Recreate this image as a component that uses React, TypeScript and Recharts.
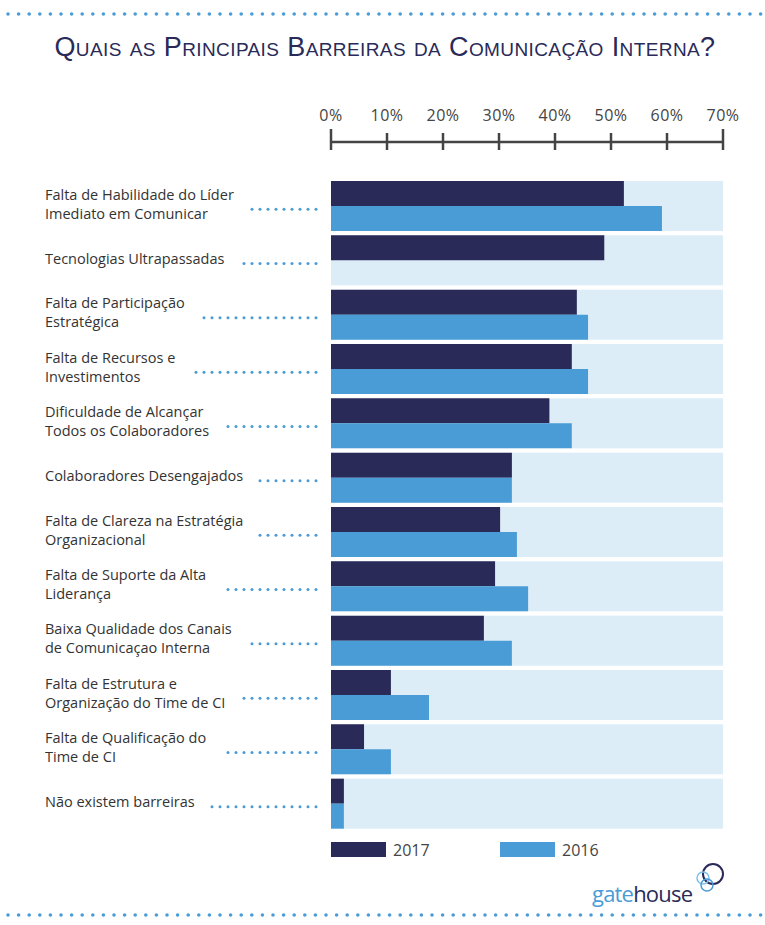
import React from 'react';
import { BarChart, Bar, XAxis, YAxis } from 'recharts';

const categories = [
  'Falta de Habilidade do Líder\nImediato em Comunicar',
  'Tecnologias Ultrapassadas',
  'Falta de Participação\nEstratégica',
  'Falta de Recursos e\nInvestimentos',
  'Dificuldade de Alcançar\nTodos os Colaboradores',
  'Colaboradores Desengajados',
  'Falta de Clareza na Estratégia\nOrganizacional',
  'Falta de Suporte da Alta\nLiderança',
  'Baixa Qualidade dos Canais\nde Comunicaçao Interna',
  'Falta de Estrutura e\nOrganização do Time de CI',
  'Falta de Qualificação do\nTime de CI',
  'Não existem barreiras',
];
const values2017 = [52.3, 48.8, 43.9, 43, 39, 32.3, 30.2, 29.3, 27.3, 10.7, 5.9, 2.3];
const values2016 = [59.1, 0, 45.9, 45.9, 43, 32.3, 33.2, 35.2, 32.3, 17.5, 10.7, 2.3];
const xTicks = [0, 10, 20, 30, 40, 50, 60, 70];

const DARK = '#292a58';
const BLUE = '#4a9cd6';
const BAND = '#dcedf8';
const LABEL_FONT = "14.5px 'Open Sans', sans-serif";

const data = categories.map((name, i) => ({ name, v2017: values2017[i], v2016: values2016[i] }));

let ctx: CanvasRenderingContext2D | null = null;
const measure = (s: string) => {
  if (!ctx) ctx = document.createElement('canvas').getContext('2d');
  if (!ctx) return s.length * 7.5;
  ctx.font = LABEL_FONT;
  return ctx.measureText(s).width;
};

const CategoryTick = (props: any) => {
  const { y, payload } = props;
  const lines: string[] = String(payload.value).split('\n');
  const w = Math.max(...lines.map(measure));
  const dots: number[] = [];
  for (let dx = 316; dx >= 45 + w + 14; dx -= 8) dots.push(dx);
  const top = y - (lines.length - 1) * 9.5 - 2;
  return (
    <g>
      {lines.map((l, i) => (
        <text key={i} x={45} y={top + i * 19} dy={5} fill="#333" style={{ font: LABEL_FONT }}>
          {l}
        </text>
      ))}
      {dots.map((dx) => (
        <circle key={dx} cx={dx} cy={y + 3} r={1.5} fill={BLUE} />
      ))}
    </g>
  );
};

const PercentTick = (props: any) => {
  const { x, payload } = props;
  const ay = 142;
  const end = payload.value === 0 || payload.value === 70;
  return (
    <g>
      {payload.value < 70 && <line x1={x} x2={x + 56} y1={ay} y2={ay} stroke="#444" strokeWidth={2.5} />}
      <line x1={x} x2={x} y1={end ? ay - 13 : ay - 9} y2={ay + 8} stroke="#444" strokeWidth={2.5} />
      <text x={x} y={121} textAnchor="middle" fill="#444" style={{ font: "16px 'Open Sans', sans-serif", letterSpacing: 0.5 }}>
        {payload.value}%
      </text>
    </g>
  );
};

const BandBg = (props: any) => {
  const { x, y, width, height } = props;
  return <rect x={x} y={y} width={width} height={height * 2} fill={BAND} />;
};

const DotRow = ({ top }: { top: number }) => (
  <svg width={765} height={8} style={{ position: 'absolute', left: 0, top }}>
    {Array.from({ length: 72 }, (_, i) => (
      <circle key={i} cx={8 + i * 10.6} cy={4} r={1.8} fill={BLUE} />
    ))}
  </svg>
);

export default function App() {
  return (
    <div style={{ position: 'absolute', left: 0, top: 0, width: 765, height: 925, background: '#fff', fontFamily: "'Open Sans', sans-serif" }}>
      <DotRow top={10} />
      <div style={{ position: 'absolute', left: 0, width: 770, top: 32, textAlign: 'center', fontSize: 27, fontVariant: 'small-caps', color: DARK, fontFamily: "'Liberation Sans', sans-serif", letterSpacing: 0.4 }}>
        Quais as Principais Barreiras da Comunicação Interna?
      </div>
      <div style={{ position: 'absolute', left: 0, top: 0 }}>
        <BarChart
          width={765}
          height={925}
          data={data}
          layout="vertical"
          margin={{ top: 149, right: 42, bottom: 94, left: 0 }}
          barGap={0}
          barCategoryGap={2}
        >
          <XAxis
            type="number"
            orientation="top"
            domain={[0, 70]}
            ticks={xTicks}
            height={30}
            axisLine={false}
            tickLine={false}
            tick={<PercentTick />}
            interval={0}
          />
          <YAxis type="category" dataKey="name" width={331} axisLine={false} tickLine={false} tick={<CategoryTick />} interval={0} />
          <Bar dataKey="v2017" fill={DARK} barSize={25} background={<BandBg />} isAnimationActive={false} />
          <Bar dataKey="v2016" fill={BLUE} barSize={25} isAnimationActive={false} />
        </BarChart>
      </div>
      <div style={{ position: 'absolute', left: 331, top: 842, width: 55, height: 15, background: DARK }} />
      <div style={{ position: 'absolute', left: 393, top: 839, fontSize: 16, color: '#444' }}>2017</div>
      <div style={{ position: 'absolute', left: 500, top: 842, width: 55, height: 15, background: BLUE }} />
      <div style={{ position: 'absolute', left: 562, top: 839, fontSize: 16, color: '#444' }}>2016</div>
      <svg width={40} height={40} style={{ position: 'absolute', left: 688, top: 860 }}>
        <circle cx={25} cy={14} r={10} fill="none" stroke={DARK} strokeWidth={2} />
        <circle cx={15} cy={18} r={6} fill="none" stroke="#7fc0ea" strokeWidth={1.5} />
        <circle cx={19} cy={25} r={6} fill="none" stroke={BLUE} strokeWidth={1.5} />
      </svg>
      <div style={{ position: 'absolute', left: 592, top: 878, fontSize: 22, letterSpacing: -0.8, fontFamily: "'Open Sans', sans-serif" }}>
        <span style={{ color: BLUE }}>gate</span>
        <span style={{ color: DARK }}>house</span>
      </div>
      <DotRow top={911} />
    </div>
  );
}
